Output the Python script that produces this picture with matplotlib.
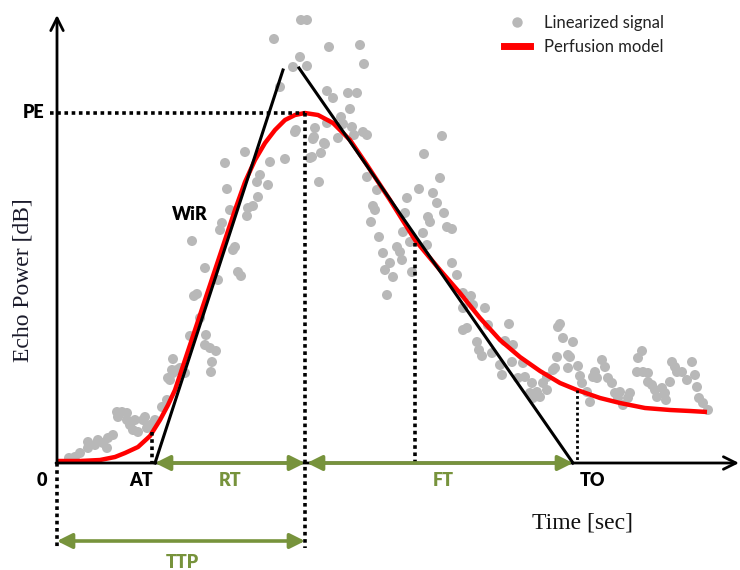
import matplotlib
matplotlib.use("Agg")
import matplotlib.pyplot as plt
from matplotlib.lines import Line2D

# ---------------- data (time in s, echo power in dB) ----------------
sig_t = [1.2, 1.8, 2.3, 3.1, 3.1, 3.8, 4.1, 4.6, 5.0, 5.1, 5.6, 6.0, 6.5, 7.0, 6.1, 7.0, 7.3, 7.6,
         8.1, 7.8, 8.6, 8.8, 9.0, 9.3, 9.8, 10.5, 11.0, 11.3, 11.6, 12.0,
         23.8, 18.8, 16.8, 21.3, 22.8, 20.3, 20.0, 21.1, 17.0, 20.1, 19.6, 19.1, 17.3, 19.0, 16.5, 16.3,
         13.5, 17.8, 17.6, 14.8, 18.1, 18.4, 16.1, 14.0, 13.7, 14.3, 13.3, 14.9, 14.8, 15.3, 15.9, 11.6,
         15.5, 12.3, 11.5, 12.8, 15.4, 11.1,
         24.4, 25.0, 21.7, 27.2, 30.3, 24.3, 23.6, 25.0, 30.7, 22.3, 27.0, 27.6, 29.1, 30.0, 29.3, 28.4,
         28.6, 29.5, 30.6, 31.0, 29.7, 25.8, 25.7, 26.8, 23.9, 26.4, 25.5, 31.0,
         27.0, 26.7, 25.6, 25.3, 28.1, 38.5, 36.7, 26.2, 32.0, 31.6, 31.8, 31.4, 32.2, 32.6, 33.3, 32.8,
         34.0, 34.3, 34.5, 34.6, 35.0, 34.8, 35.3, 35.5, 36.2, 37.6, 38.0, 38.3, 37.1, 37.3, 38.7, 39.0,
         39.5, 36.6, 37.0, 33.0, 39.5, 40.0, 40.6, 41.4, 33.6,
         40.6, 41.6, 42.8, 41.0, 40.6, 43.1, 45.2, 42.0, 42.2, 42.5, 43.5, 44.8, 45.6, 44.3, 44.5, 45.5,
         46.6, 46.8, 47.5, 47.3, 48.0, 48.6, 49.0, 49.6, 50.3, 50.6, 51.6, 50.0, 51.1, 51.1, 46.1, 48.3,
         47.6,
         50.1, 51.3, 49.8, 49.0, 52.1, 52.3, 52.5, 53.0, 53.3, 53.8, 53.6, 54.5, 54.8, 54.0, 55.1, 55.5,
         55.8, 56.3, 56.1, 56.6, 57.3, 57.1, 58.5, 58.1, 58.0, 58.6, 59.1, 59.1, 59.5, 59.8, 60.0, 60.5,
         60.8, 60.9, 61.3, 61.5, 61.8, 62.0, 62.5, 63.0, 63.5, 63.8, 64.0, 64.2, 64.6, 65.1]
sig_db = [0.5, 0.6, 1.0, 1.5, 2.1, 1.8, 2.3, 2.0, 1.5, 2.5, 2.8, 5.1, 5.1, 5.0, 4.6, 4.3, 3.8, 3.3,
          3.1, 4.3, 4.3, 4.6, 3.5, 3.8, 4.3, 5.6, 6.3, 8.3, 9.0, 9.3,
          33.1, 31.1, 30.0, 30.1, 30.4, 28.8, 28.1, 27.8, 27.4, 26.6, 25.7, 25.5, 25.3, 24.7, 24.0, 23.3,
          22.2, 21.6, 21.3, 19.5, 19.1, 18.7, 18.3, 16.9, 16.7, 14.5, 12.7, 12.8, 11.8, 11.5, 11.2, 10.4,
          10.1, 9.5, 9.3, 9.0, 9.1, 8.5,
          44.3, 44.3, 42.4, 41.6, 41.8, 40.6, 39.6, 39.7, 39.9, 37.6, 37.2, 36.5, 37.0, 37.0, 35.4, 34.6,
          33.9, 33.6, 33.1, 32.8, 32.8, 33.5, 32.6, 31.9, 33.3, 31.0, 30.6, 28.6,
          34.0, 32.0, 32.4, 30.5, 32.5, 32.7, 30.9, 28.1, 27.3, 25.7, 25.3, 24.1, 22.6, 21.0, 20.0, 19.3,
          21.6, 21.1, 20.3, 23.1, 26.5, 25.0, 22.1, 19.1, 27.4, 27.0, 26.0, 28.5, 24.6, 24.1, 25.0, 23.6,
          23.4, 23.0, 21.8, 16.8, 20.0, 18.8, 17.0, 16.7, 18.6,
          15.5, 15.8, 15.5, 13.5, 13.3, 13.8, 13.9, 12.1, 11.3, 10.7, 11.0, 12.2, 11.8, 9.8, 8.8, 10.1,
          10.0, 8.6, 8.0, 7.0, 7.1, 8.0, 8.6, 9.3, 13.9, 12.5, 12.1, 10.6, 10.8, 9.5, 8.5, 6.6,
          6.5,
          13.6, 10.6, 9.5, 7.3, 9.7, 8.7, 8.0, 7.1, 6.1, 9.1, 8.6, 10.3, 9.6, 8.5, 8.5, 8.0,
          7.0, 7.1, 6.5, 5.8, 7.0, 6.5, 11.2, 10.5, 9.1, 9.1, 9.0, 8.1, 7.8, 7.3, 6.6, 7.5,
          7.0, 6.3, 8.1, 10.1, 9.6, 9.1, 9.1, 8.3, 10.1, 8.8, 7.6, 6.5, 6.0, 5.3]

model_t = [0.0, 2.3, 4.3, 5.8, 6.8, 8.1, 9.3, 10.3, 11.1, 11.8, 12.8, 13.8, 14.8, 15.8, 16.8, 17.8,
           18.8, 19.8, 20.8, 21.8, 22.8, 23.8, 24.8, 26.1, 27.6, 29.3, 31.0, 33.3, 35.8, 38.3, 40.3,
           42.3, 44.3, 46.3, 48.3, 50.3, 52.0, 54.3, 56.3, 58.8, 61.3, 63.3, 65.0]
model_db = [0.2, 0.2, 0.3, 0.6, 1.0, 1.6, 2.7, 4.3, 5.8, 7.3, 10.3, 13.3, 16.3, 19.3, 22.3, 25.3,
            28.1, 30.3, 32.0, 33.3, 34.3, 34.8, 35.0, 34.8, 34.0, 32.3, 29.8, 26.3, 22.3, 19.3, 17.0,
            14.5, 12.3, 10.6, 9.2, 8.0, 7.3, 6.5, 6.0, 5.5, 5.3, 5.2, 5.1]

# key parameters
AT, TTP, TO, PE = 9.8, 24.8, 51.6, 35.0
wir_top = (22.6, 39.3)      # top of wash-in tangent
wo_top = (24.2, 39.5)       # top of wash-out tangent
mid_fall_t, mid_fall_db = 35.8, 22.0
end_t, end_db = 52.0, 7.3
at_mark_t, at_mark_db = 9.5, 3.1

GREEN = "#77933C"
SANS = ["Lato", "DejaVu Sans"]
SERIF = ["Liberation Serif", "DejaVu Serif"]

fig = plt.figure(figsize=(7.4, 5.7), dpi=100)
ax = fig.add_axes([0, 0, 1, 1])
ax.set_xlim(-5.7, 68.3)
ax.set_ylim(-10.7, 46.3)
ax.axis("off")

# signal and model
ax.scatter(sig_t, sig_db, s=52, color="#b8b8b8", edgecolors="none", zorder=1, label="Linearized signal")
ax.plot(model_t, model_db, color="#ff0000", lw=3.2, zorder=2, solid_capstyle="butt")

# tangents
ax.plot([AT, wir_top[0]], [0, wir_top[1]], color="black", lw=2.2, zorder=3)
ax.plot([wo_top[0], TO], [wo_top[1], 0], color="black", lw=2.2, zorder=3)

# dotted guides
dot = dict(color="black", lw=2.6, ls=(0, (1, 1)), zorder=3, dash_capstyle="butt")
ax.plot([-0.7, TTP], [PE, PE], **dot)
ax.plot([TTP, TTP], [PE, -8.5], **dot)
ax.plot([0, 0], [0, -8.5], **dot)
ax.plot([at_mark_t, at_mark_t], [at_mark_db, 0], **dot)
ax.plot([mid_fall_t, mid_fall_t], [mid_fall_db, 0], **dot)
ax.plot([end_t, end_t], [end_db, 0], color="black", lw=2.0, ls=(0, (1, 1)), zorder=3)

# axes arrows
axis_arrow = dict(arrowstyle="->,head_length=0.9,head_width=0.45", lw=2.0, color="black",
                  shrinkA=0, shrinkB=0)
ax.annotate("", xy=(0, 44.8), xytext=(0, -0.1), arrowprops=axis_arrow, zorder=4)
ax.annotate("", xy=(68.2, 0), xytext=(-0.1, 0), arrowprops=axis_arrow, zorder=4)

# green interval arrows
garrow = dict(arrowstyle="<|-|>,head_length=0.9,head_width=0.45", lw=2.6, color=GREEN,
              shrinkA=0, shrinkB=0)
ax.annotate("", xy=(TTP, 0), xytext=(AT, 0), arrowprops=garrow, zorder=5)
ax.annotate("", xy=(TO, 0), xytext=(TTP + 0.2, 0), arrowprops=garrow, zorder=5)
ax.annotate("", xy=(TTP, -7.8), xytext=(0, -7.8), arrowprops=garrow, zorder=5)

# labels
lab = dict(fontsize=13, fontweight="heavy", family=SANS, ha="center", va="center")
ax.text(-1.3, PE, "PE", color="black", **{**lab, "ha": "right"})
ax.text(-1.5, -1.7, "0", color="black", **lab)
ax.text(8.4, -1.8, "AT", color="black", **lab)
ax.text(17.3, -1.8, "RT", color=GREEN, **lab)
ax.text(38.6, -1.8, "FT", color=GREEN, **lab)
ax.text(53.6, -1.8, "TO", color="black", **lab)
ax.text(12.5, -9.9, "TTP", color=GREEN, **lab)
ax.text(13.3, 24.9, "WiR", color="black", **lab)

ax.text(52.5, -6.0, "Time [sec]", fontsize=17, family=SERIF, ha="center", va="center", color="#111111")
ax.text(-3.4, 18.3, "Echo Power [dB]", fontsize=17, family=SERIF, ha="center", va="center",
        rotation=90, color="#1a1a2a")

# legend
handles = [Line2D([], [], ls="none", marker="o", markersize=7.5, color="#b8b8b8", markeredgecolor="none"),
           Line2D([], [], color="#ff0000", lw=5)]
leg = ax.legend(handles, ["Linearized signal", "Perfusion model"], loc="upper left",
                bbox_to_anchor=(0.665, 0.995), frameon=False, prop={"family": SANS, "size": 12},
                handlelength=1.6, handletextpad=0.8, labelspacing=0.5, borderpad=0.2)
for t in leg.get_texts():
    t.set_color("#222222")

fig.savefig("out.png", dpi=100)
